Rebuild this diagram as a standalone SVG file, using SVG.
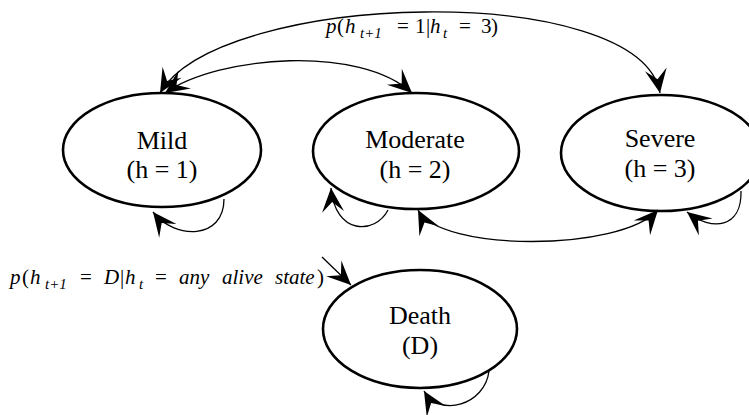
<svg xmlns="http://www.w3.org/2000/svg" width="749" height="415" viewBox="0 0 749 415">
<style>
.node{fill:#fff;stroke:#000;stroke-width:2.6}
.lbl{font-family:"Liberation Serif","Times New Roman",serif;font-size:26px;text-anchor:middle;fill:#000}
.edge{fill:none;stroke:#000;stroke-width:1.3}
.math{font-family:"Liberation Serif","Times New Roman",serif;font-size:21px;fill:#000}
.it{font-style:italic}
.sub{font-size:15px;font-style:italic}
</style>
<defs>
<marker id="stealth" viewBox="-25 -12 26 24" refX="0" refY="0" markerWidth="26" markerHeight="24" markerUnits="userSpaceOnUse" orient="auto-start-reverse">
<path d="M0,0 L-24,-11 L-14,0 L-24,11 Z" fill="#000"/>
</marker>
</defs>
<g id="node-mild">
<ellipse class="node" cx="162" cy="150" rx="99" ry="57"/>
<text class="lbl" x="162" y="149">Mild</text>
<text class="lbl" x="162" y="178">(h = 1)</text>
</g>
<g id="node-moderate">
<ellipse class="node" cx="416" cy="151" rx="103" ry="58"/>
<text class="lbl" x="415" y="148">Moderate</text>
<text class="lbl" x="415" y="178">(h = 2)</text>
</g>
<g id="node-severe">
<ellipse class="node" cx="661" cy="153" rx="100" ry="58"/>
<text class="lbl" x="660" y="147">Severe</text>
<text class="lbl" x="660" y="177">(h = 3)</text>
</g>
<g id="node-death">
<ellipse class="node" cx="420" cy="329" rx="97" ry="59"/>
<text class="lbl" x="420" y="324">Death</text>
<text class="lbl" x="420" y="354">(D)</text>
</g>
<g id="connectors">
<path class="edge" d="M160 93 C220 -10 640 -20 660 93" marker-start="url(#stealth)" marker-end="url(#stealth)"/>
<path class="edge" d="M165 93 C220 55 360 45 412 93" marker-start="url(#stealth)" marker-end="url(#stealth)"/>
<path class="edge" d="M418 210 C440 252 620 252 658 210" marker-start="url(#stealth)" marker-end="url(#stealth)"/>
<path class="edge" d="M224 199 C224 240 175 240 153 212" marker-end="url(#stealth)"/>
<path class="edge" d="M388 210 C375 235 335 235 331 188" marker-end="url(#stealth)"/>
<path class="edge" d="M741 191 C742 228 712 232 687 212" marker-end="url(#stealth)"/>
<path class="edge" d="M489 371 C485 405 440 418 424 391" marker-end="url(#stealth)"/>
<path class="edge" d="M322 257 L351 285" marker-end="url(#stealth)"/>
</g>
<g id="label-top">
<text class="math" y="33"><tspan class="it" x="326">p</tspan><tspan x="337">(</tspan><tspan class="it" x="345">h</tspan><tspan class="sub" x="360" dy="5">t+1</tspan><tspan x="397" dy="-5">=</tspan><tspan x="415">1</tspan><tspan x="426">|</tspan><tspan class="it" x="430">h</tspan><tspan class="sub" x="443" dy="5">t</tspan><tspan x="459" dy="-5">=</tspan><tspan x="481">3</tspan><tspan x="491">)</tspan></text>
</g>
<g id="label-death">
<text class="math" y="284"><tspan class="it" x="10">p</tspan><tspan x="22">(</tspan><tspan class="it" x="30">h</tspan><tspan class="sub" x="45" dy="5">t+1</tspan><tspan x="80" dy="-5">=</tspan><tspan class="it" x="104">D</tspan><tspan x="120">|</tspan><tspan class="it" x="125">h</tspan><tspan class="sub" x="139" dy="5">t</tspan><tspan x="155" dy="-5">=</tspan><tspan class="it" x="179">any</tspan><tspan class="it" x="222">alive</tspan><tspan class="it" x="275">state</tspan><tspan x="317">)</tspan></text>
</g>
</svg>
